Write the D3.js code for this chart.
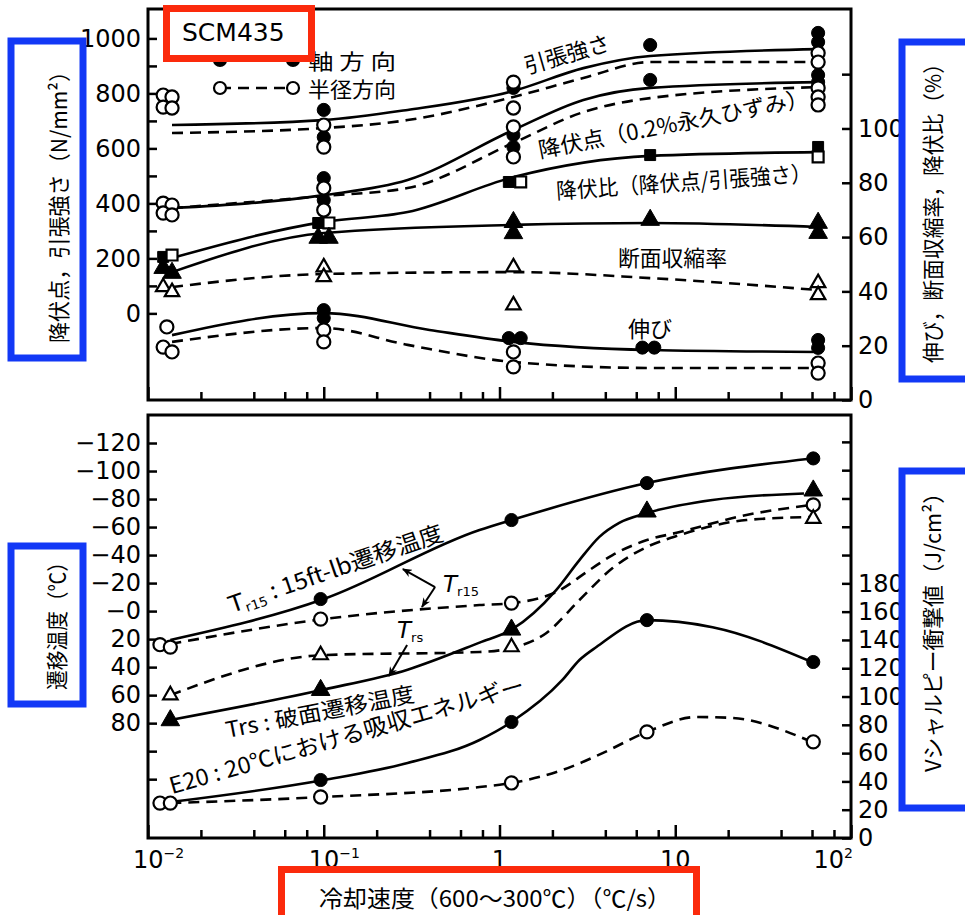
<!DOCTYPE html>
<html>
<head>
<meta charset="utf-8">
<script src="https://cdn.jsdelivr.net/npm/d3@7"></script>
<style>
  body { margin: 0; background: #fff; }
  svg { display: block; font-family: "Noto Sans CJK JP", "DejaVu Sans", sans-serif; }
</style>
</head>
<body>
<svg id="chart" width="965" height="915"></svg>
<script>
// ---------- data: x = cooling rate (°C/s) ----------
// upper panel, strength (N/mm2)
const tensileAxial  = [[0.0137,685],[0.1,703],[0.3,740],[1.2,809],[3,892],[7.2,936],[65,961]];
const tensileRadial = [[0.0137,656],[0.1,674],[0.3,703],[1.2,787],[3,856],[7.2,914],[65,914]];
const yieldAxial    = [[0.0137,383],[0.1,430],[0.3,485],[1.2,667],[3,776],[7.2,820],[65,841]];
const yieldRadial   = [[0.0137,383],[0.1,427],[0.3,456],[1.2,620],[3,732],[7.2,783],[65,823]];
const strengthAxialPts = [[0.1,740],[0.1,641],[0.1,492],[0.1,412],[1.2,820],[1.2,649],[1.2,605],
                          [7.2,976],[7.2,849],[65,1020],[65,987],[65,867],[65,841]];
const strengthRadialPts = [[0.0122,794],[0.0137,787],[0.0122,750],[0.0137,747],[0.0122,401],[0.0137,394],
                           [0.0122,365],[0.0137,358],[0.1,685],[0.1,605],[0.1,456],[0.1,376],
                           [1.2,841],[1.2,747],[1.2,678],[1.2,569],[65,947],[65,914],[65,820],[65,787],[65,758]];
// upper panel, percent
const ratioAxial     = [[0.0137,52.3],[0.1,65.6],[0.3,69.2],[1.2,82.1],[7.2,89.9],[65,91.3]];
const reductionAxial = [[0.0137,47.1],[0.1,61.5],[1.2,64.5],[7.2,65.2],[65,63.7]];
const reductionRadial= [[0.0137,41.6],[0.1,46.4],[1.2,47.1],[7.2,44.9],[65,40.5]];
const elongAxial     = [[0.0137,23.9],[0.1,32],[0.4,25.8],[1.2,21.4],[7.2,18.4],[65,17.7]];
const elongRadial    = [[0.0137,21.4],[0.1,26.5],[0.3,20.3],[1.2,14],[7.2,11.8],[65,11.8]];
const ratioAxialPts  = [[0.0122,52.7],[0.093,65.2],[1.13,80.3],[7.2,90.2],[65,93.2]];
const ratioRadialPts = [[0.0137,53.4],[0.107,65.2],[1.32,80.3],[65,89.5]];
const reductionAxialPts  = [[0.0122,48.6],[0.0137,46.8],[0.093,59.7],[0.107,59.7],[1.2,65.5],[1.2,61.4],
                            [7.2,66.3],[65,65.2],[65,61.5]];
const reductionRadialPts = [[0.0122,41.6],[0.0137,39.8],[0.1,48.9],[0.1,45.3],[1.2,48.9],[1.2,34.9],
                            [65,43.1],[65,38.7]];
const elongAxialPts  = [[0.1,33.1],[0.1,30.2],[1.13,22.8],[1.32,22.8],[6.5,19.3],[7.6,19.3],[65,22.1],[65,19.2]];
const elongRadialPts = [[0.0128,26.9],[0.0122,19.5],[0.0137,17.7],[0.1,25.8],[0.1,21.4],[1.2,17.7],[1.2,12.2],
                        [65,13.6],[65,9.9]];
// lower panel, transition temperature (°C)
const tr15Axial  = [[0.0134,20.6],[0.1,-8.6],[0.77,-57.9],[1.17,-65],[6.9,-91.4],[60,-109]];
const tr15Radial = [[0.0134,23.5],[0.1,5.7],[0.77,-4.3],[1.17,-5.7],[2.1,-13.6],[3.25,-29.3],[4.4,-40],
                    [6.9,-50.7],[10.6,-56.4],[25.4,-68.6],[60,-75.8]];
const trsAxial   = [[0.0134,77.7],[0.1,56],[0.3,41.8],[0.77,22.5],[1.17,13.3],[2.1,-15],[2.85,-36.4],
                    [3.7,-53],[4.8,-63],[6.9,-70],[16.3,-79.3],[54,-84]];
const trsRadial  = [[0.0134,60],[0.1,31.4],[0.77,29.2],[1.17,26.4],[1.85,15.6],[2.85,-7.9],[4.4,-30.7],
                    [6.9,-45.8],[10.6,-54.3],[25.4,-65],[60,-67.2]];
const tr15AxialPts  = [[0.096,-8.6],[1.17,-65],[6.9,-91.4],[61,-109]];
const tr15RadialPts = [[0.0117,24],[0.0134,25.7],[0.096,5.7],[1.17,-5.7],[61,-75.8]];
const trsAxialPts   = [[0.0134,78],[0.096,56.4],[1.17,13.3],[6.9,-71],[61,-86]];
const trsRadialPts  = [[0.0134,60],[0.096,31.4],[1.17,25.7],[61,-66]];
// lower panel, Charpy energy at 20°C (J/cm2)
const e20Axial  = [[0.0134,25.4],[0.1,41],[0.3,53],[0.77,69.3],[1.17,82],[2.28,111.7],[2.85,125.8],
                   [3.56,135],[6.9,154],[16.3,149],[60,124.4]];
const e20Radial = [[0.0134,24.7],[0.1,29],[0.77,36],[1.17,38.9],[2.28,48],[3.86,60],[6.9,75],[13.2,85.5],
                   [20.4,85],[60,67.9]];
const e20AxialPts  = [[0.096,41],[1.17,82],[6.9,154],[61,124.4]];
const e20RadialPts = [[0.0117,24.7],[0.0134,24.7],[0.096,29],[1.17,38.9],[6.9,75],[61,68]];

// ticks
const strengthTicks = d3.range(0, 1001, 100);
const strengthLabels = [0, 200, 400, 600, 800, 1000];
const pctTicks = d3.range(0, 121, 20);
const pctLabels = [0, 20, 40, 60, 80, 100];
const tempTicks = d3.range(-120, 121, 20);
const tempLabels = d3.range(-120, 81, 20);
const energyTicks = d3.range(0, 281, 20);
const energyLabels = d3.range(0, 181, 20);
const xMajor = [0.01, 0.1, 1, 10, 100];
const xMinor = [0.01, 0.1, 1, 10].flatMap(d => [2, 4, 6, 8].map(m => d * m));
const xLabelBase = ["10", "10", "1", "10", "10"];
const xLabelExp = ["−2", "−1", "", "", "2"];

// ---------- layout ----------
const svg = d3.select("#chart");
const plotL = 148, plotR = 851;
const top1 = 9, bot1 = 400, top2 = 415, bot2 = 838;

const x = d3.scaleLog().domain([0.01, 100]).range([plotL, plotR]);
const yStr = d3.scaleLinear().domain([-315, 1107]).range([bot1, top1]);
const yPct = d3.scaleLinear().domain([0, 144]).range([bot1, top1]);
const yTmp = d3.scaleLinear().domain([-140, 162]).range([top2, bot2]);
const yEng = d3.scaleLinear().domain([0, 299]).range([bot2, top2]);

const defs = svg.append("defs");
defs.append("marker").attr("id", "arrow").attr("viewBox", "0 0 10 8")
  .attr("refX", 9).attr("refY", 4).attr("markerWidth", 10).attr("markerHeight", 8)
  .attr("markerUnits", "userSpaceOnUse").attr("orient", "auto")
  .append("path").attr("d", "M0,0L10,4L0,8L3,4Z").attr("fill", "#000");

function styleAxis(g) {
  g.select(".domain").remove();
  g.attr("font-family", "DejaVu Sans, sans-serif").attr("font-size", 24);
  g.selectAll("line").attr("stroke", "#000").attr("stroke-width", 2.5);
  g.selectAll("text").attr("fill", "#000");
}

function vAxis(side, scale, ticks, labels, fmt, px) {
  const ax = (side === "left" ? d3.axisLeft(scale) : d3.axisRight(scale))
    .tickValues(ticks).tickSizeInner(-9).tickSizeOuter(0).tickPadding(7)
    .tickFormat(d => labels.includes(d) ? fmt(d) : "");
  svg.append("g").attr("transform", `translate(${px},0)`).call(ax).call(styleAxis);
}

function xAxis(py) {
  svg.append("g").attr("transform", `translate(0,${py})`)
    .call(d3.axisBottom(x).tickValues(xMajor).tickSizeInner(-13).tickSizeOuter(0).tickFormat(""))
    .call(styleAxis);
  svg.append("g").attr("transform", `translate(0,${py})`)
    .call(d3.axisBottom(x).tickValues(xMinor).tickSizeInner(-8).tickSizeOuter(0).tickFormat(""))
    .call(styleAxis);
}

const line = (ys) => d3.line().x(d => x(d[0])).y(d => ys(d[1])).curve(d3.curveMonotoneX);

function curve(pts, ys, dashed) {
  svg.append("path").datum(pts)
    .attr("d", line(ys))
    .attr("fill", "none").attr("stroke", "#000").attr("stroke-width", 2.6)
    .attr("stroke-dasharray", dashed ? "11,7" : null);
}

function marks(pts, ys, shape, filled, size) {
  const sym = d3.symbol().type(shape).size(size);
  svg.append("g").selectAll("path").data(pts).join("path")
    .attr("transform", d => `translate(${x(d[0])},${ys(d[1])})`)
    .attr("d", sym)
    .attr("fill", filled ? "#000" : "#fff")
    .attr("stroke", "#000").attr("stroke-width", filled ? 1 : 2.2);
}

// frames
[[top1, bot1], [top2, bot2]].forEach(([t, b]) => {
  svg.append("rect").attr("x", plotL).attr("y", t).attr("width", plotR - plotL).attr("height", b - t)
    .attr("fill", "none").attr("stroke", "#000").attr("stroke-width", 3);
});

// axes
vAxis("left", yStr, strengthTicks, strengthLabels, d => d, plotL);
vAxis("right", yPct, pctTicks, pctLabels, d => d, plotR);
vAxis("left", yTmp, tempTicks, tempLabels, d => d < 0 ? "−" + (-d) : (d === 0 ? "−0" : d), plotL);
vAxis("right", yEng, energyTicks, energyLabels, d => d, plotR);
xAxis(bot1);
xAxis(bot2);

const xl = svg.append("g").attr("font-family", "DejaVu Sans, sans-serif").attr("font-size", 24);
xMajor.forEach((d, i) => {
  const last = i === xMajor.length - 1;
  const t = xl.append("text").attr("x", x(d) + (last ? 2 : 0)).attr("y", 868)
    .attr("text-anchor", last ? "end" : (xLabelExp[i] ? "start" : "middle"));
  if (xLabelExp[i] && !last) t.attr("dx", -15);
  t.append("tspan").text(xLabelBase[i]);
  if (xLabelExp[i]) t.append("tspan").attr("font-size", 14).attr("dy", -10).text(xLabelExp[i]);
});

// ---------- curves ----------
curve(tensileAxial, yStr, false);
curve(tensileRadial, yStr, true);
curve(yieldAxial, yStr, false);
curve(yieldRadial, yStr, true);
curve(ratioAxial, yPct, false);
curve(reductionAxial, yPct, false);
curve(reductionRadial, yPct, true);
curve(elongAxial, yPct, false);
curve(elongRadial, yPct, true);

curve(tr15Axial, yTmp, false);
curve(tr15Radial, yTmp, true);
curve(trsAxial, yTmp, false);
curve(trsRadial, yTmp, true);
curve(e20Axial, yEng, false);
curve(e20Radial, yEng, true);

// ---------- markers ----------
const CIRC = 135, TRI = 150, TRI_O = 90, SQ = 120;
marks(strengthAxialPts, yStr, d3.symbolCircle, true, CIRC);
marks(strengthRadialPts, yStr, d3.symbolCircle, false, CIRC);
marks(ratioAxialPts, yPct, d3.symbolSquare, true, SQ);
marks(ratioRadialPts, yPct, d3.symbolSquare, false, SQ);
marks(reductionAxialPts, yPct, d3.symbolTriangle, true, TRI);
marks(reductionRadialPts, yPct, d3.symbolTriangle, false, TRI_O);
marks(elongAxialPts, yPct, d3.symbolCircle, true, CIRC);
marks(elongRadialPts, yPct, d3.symbolCircle, false, CIRC);

marks(tr15AxialPts, yTmp, d3.symbolCircle, true, CIRC);
marks(tr15RadialPts, yTmp, d3.symbolCircle, false, CIRC);
marks(trsAxialPts, yTmp, d3.symbolTriangle, true, TRI);
marks(trsRadialPts, yTmp, d3.symbolTriangle, false, TRI_O);
marks(e20AxialPts, yEng, d3.symbolCircle, true, CIRC);
marks(e20RadialPts, yEng, d3.symbolCircle, false, CIRC);

// ---------- annotations ----------
function label(txt, sx, ys, v, angle, len, size) {
  const t = svg.append("text")
    .attr("transform", `translate(${x(sx)},${ys(v)}) rotate(${angle})`)
    .attr("font-size", size || 22).attr("fill", "#000").text(txt);
  if (len) t.attr("textLength", len).attr("lengthAdjust", "spacingAndGlyphs");
  return t;
}
label("引張強さ", 1.43, yStr, 870, -16, 88);
label("降伏点（0.2%永久ひずみ）", 1.70, yStr, 565, -11, 275);
label("降伏比（降伏点/引張強さ）", 2.12, yPct, 74, -4, 256);
label("断面収縮率", 4.72, yPct, 49.4, 0, 109);
label("伸び", 5.38, yPct, 23.2, 0, 44);

function subLabel(main, sub, rest, sx, ys, v, angle, len, italic) {
  const t = svg.append("text")
    .attr("transform", `translate(${x(sx)},${ys(v)}) rotate(${angle})`)
    .attr("font-family", "DejaVu Sans, sans-serif").attr("font-size", 23).attr("fill", "#000");
  t.append("tspan").attr("font-style", italic ? "italic" : null).text(main);
  t.append("tspan").attr("font-size", 13).attr("dy", 4).text(sub);
  if (rest) t.append("tspan").attr("dy", -4).attr("font-family", "Noto Sans CJK JP").text(rest);
  if (len) t.attr("textLength", len).attr("lengthAdjust", "spacingAndGlyphs");
}
subLabel("T", "r15", " : 15ft-lb遷移温度", 0.0301, yTmp, 1.4, -19, 225, false);
subLabel("T", "r15", "", 0.477, yTmp, -13.6, 0, null, true);
subLabel("T", "rs", "", 0.261, yTmp, 19.2, 0, null, true);
label("Trs : 破面遷移温度", 0.0282, yTmp, 90.6, -11, 192, 22);
label("E20 : 20℃における吸収エネルギー", 0.0137, yEng, 31, -16, 368, 23);

function arrow(a, b) {
  svg.append("line")
    .attr("x1", x(a[0])).attr("y1", yTmp(a[1])).attr("x2", x(b[0])).attr("y2", yTmp(b[1]))
    .attr("stroke", "#000").attr("stroke-width", 2).attr("marker-end", "url(#arrow)");
}
arrow([0.43, -17.2], [0.282, -30]);
arrow([0.43, -17.2], [0.362, -2.9]);
arrow([0.298, 24.2], [0.235, 46.3]);

// legend
const lg = svg.append("g");
[[60, true, false, "軸 方 向"], [88, false, true, "半径方向"]].forEach(([ly, filled, dashed, txt]) => {
  lg.append("line").attr("x1", 220).attr("x2", 293).attr("y1", ly).attr("y2", ly)
    .attr("stroke", "#000").attr("stroke-width", 2.6).attr("stroke-dasharray", dashed ? "11,7" : null);
  [220, 293].forEach(cx => lg.append("circle").attr("cx", cx).attr("cy", ly).attr("r", 6)
    .attr("fill", filled ? "#000" : "#fff").attr("stroke", "#000").attr("stroke-width", 2.2));
  lg.append("text").attr("x", 308).attr("y", ly + 9).attr("font-size", 21)
    .attr("textLength", 88).attr("lengthAdjust", "spacingAndGlyphs").text(txt);
});

// highlight boxes
const RED = "#fb2a0c", BLUE = "#1238f6";
function box(x0, y0, w, h, color) {
  svg.append("rect").attr("x", x0).attr("y", y0).attr("width", w).attr("height", h)
    .attr("fill", "#fff").attr("stroke", color).attr("stroke-width", 7);
}
box(166.5, 8.5, 145, 50, RED);
svg.append("text").attr("x", 182).attr("y", 41).attr("font-family", "DejaVu Sans, sans-serif")
  .attr("font-size", 25).text("SCM435");

box(281.5, 869.5, 415, 60, RED);
svg.append("text").attr("x", 319).attr("y", 907).attr("font-size", 23)
  .attr("textLength", 352).attr("lengthAdjust", "spacingAndGlyphs")
  .text("冷却速度（600～300℃）（℃/s）");

function vTitle(x0, y0, w, h, cx, cy, txt, len) {
  box(x0, y0, w, h, BLUE);
  svg.append("text").attr("transform", `translate(${cx},${cy}) rotate(-90)`)
    .attr("text-anchor", "middle").attr("dominant-baseline", "central")
    .attr("font-size", 22).attr("textLength", len).attr("lengthAdjust", "spacingAndGlyphs").text(txt);
}
vTitle(11, 41, 72, 317, 57, 202, "降伏点，引張強さ（N/mm²）", 282);
vTitle(902, 42, 80, 337, 931, 208, "伸び，断面収縮率，降伏比（%）", 310);
vTitle(11, 546, 72, 158, 55, 621, "遷移温度（℃）", 138);
vTitle(902, 471, 80, 337, 931, 627, "Vシャルピー衝撃値（J/cm²）", 290);
</script>
</body>
</html>
